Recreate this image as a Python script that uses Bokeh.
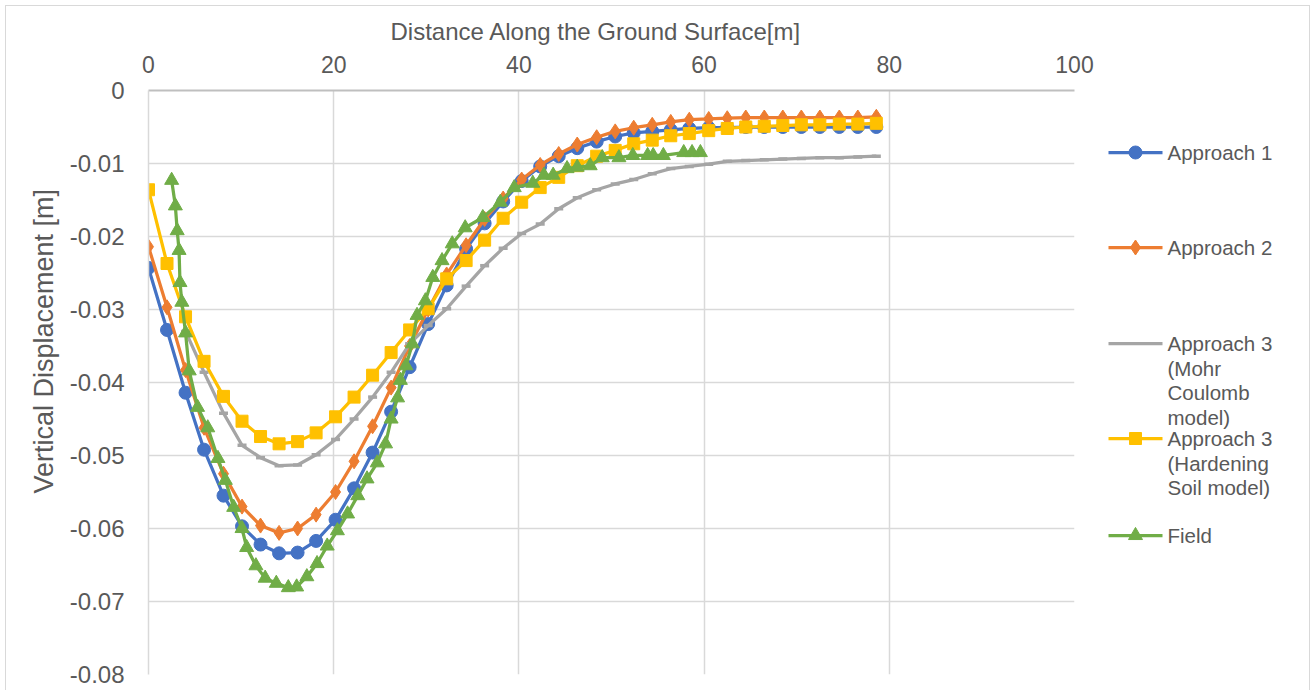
from bokeh.plotting import figure
from bokeh.layouts import row
from bokeh.models import Range1d, FixedTicker, CustomJSTickFormatter, Title
from bokeh.embed import file_html
from bokeh.resources import INLINE
from bokeh.core.properties import value

FONT = "Liberation Sans"
TXT = "#595959"
GRID = "#d9d9d9"

# ---------------- data ----------------
x_model = [0.0, 2.0, 4.0, 6.0, 8.1, 10.1, 12.1, 14.1, 16.1, 18.1,
           20.2, 22.2, 24.2, 26.2, 28.2, 30.2, 32.2, 34.3, 36.3, 38.3,
           40.3, 42.3, 44.3, 46.3, 48.4, 50.4, 52.4, 54.4, 56.4, 58.4,
           60.5, 62.5, 64.5, 66.5, 68.5, 70.5, 72.5, 74.6, 76.6, 78.6]

approach1 = [-0.0243, -0.0328, -0.0414, -0.0492, -0.0555, -0.0597, -0.0622, -0.0634, -0.0633, -0.0617,
             -0.0588, -0.0545, -0.0496, -0.0440, -0.0379, -0.0320, -0.0267, -0.0217, -0.0182, -0.0152,
             -0.0124, -0.0104, -0.0090, -0.0079, -0.0070, -0.0063, -0.0058, -0.0056, -0.0054, -0.0052,
             -0.0051, -0.0051, -0.0050, -0.0050, -0.0050, -0.0050, -0.0050, -0.0050, -0.0050, -0.0050]

approach2 = [-0.0214, -0.0297, -0.0383, -0.0462, -0.0525, -0.0570, -0.0596, -0.0606, -0.0600, -0.0581,
             -0.0550, -0.0508, -0.0460, -0.0407, -0.0350, -0.0300, -0.0252, -0.0212, -0.0176, -0.0148,
             -0.0122, -0.0102, -0.0087, -0.0074, -0.0064, -0.0056, -0.0051, -0.0047, -0.0043, -0.0040,
             -0.0039, -0.0038, -0.0037, -0.0037, -0.0037, -0.0037, -0.0037, -0.0037, -0.0037, -0.0036]

approach3_mc_x = x_model[2:]
approach3_mc = [-0.0330, -0.0386, -0.0442, -0.0486, -0.0503, -0.0514, -0.0513, -0.0499,
                -0.0478, -0.0450, -0.0420, -0.0386, -0.0347, -0.0322, -0.0299, -0.0268, -0.0240, -0.0216,
                -0.0196, -0.0183, -0.0162, -0.0147, -0.0136, -0.0128, -0.0122, -0.0114, -0.0107, -0.0104,
                -0.0101, -0.0097, -0.0096, -0.0095, -0.0094, -0.0093, -0.0092, -0.0092, -0.0091, -0.0090]

approach3_hs = [-0.0136, -0.0237, -0.0310, -0.0371, -0.0419, -0.0453, -0.0474, -0.0484, -0.0481, -0.0469,
                -0.0447, -0.0420, -0.0390, -0.0359, -0.0328, -0.0299, -0.0258, -0.0233, -0.0205, -0.0175,
                -0.0153, -0.0133, -0.0119, -0.0103, -0.0090, -0.0082, -0.0073, -0.0068, -0.0062, -0.0059,
                -0.0055, -0.0052, -0.0050, -0.0049, -0.0048, -0.0047, -0.0047, -0.0046, -0.0046, -0.0045]

field_x = [2.5, 2.9, 3.1, 3.3, 3.4, 3.6, 4.0, 4.4, 5.3, 6.4,
           7.5, 8.3, 9.2, 10.1, 10.6, 11.6, 12.6, 13.8, 15.1, 16.0,
           17.1, 18.2, 19.3, 20.4, 21.5, 22.6, 23.6, 24.7, 25.6, 26.2,
           26.9, 27.2, 27.8, 28.5, 29.0, 29.9, 30.7, 31.7, 32.8, 34.2,
           36.1, 38.0, 39.5, 41.5, 42.7, 43.7, 45.2, 46.3, 47.7, 49.0,
           50.8, 52.3, 53.9, 54.5, 55.6, 57.8, 58.7, 59.6]
field_y = [-0.0123, -0.0158, -0.0192, -0.0219, -0.0263, -0.0290, -0.0332, -0.0384, -0.0434, -0.0462,
           -0.0504, -0.0534, -0.0571, -0.0600, -0.0626, -0.0651, -0.0668, -0.0675, -0.0681, -0.0680,
           -0.0666, -0.0648, -0.0624, -0.0603, -0.0580, -0.0555, -0.0532, -0.0510, -0.0484, -0.0450,
           -0.0421, -0.0397, -0.0377, -0.0347, -0.0308, -0.0288, -0.0256, -0.0233, -0.0210, -0.0188,
           -0.0174, -0.0153, -0.0133, -0.0127, -0.0116, -0.0116, -0.0107, -0.0105, -0.0103, -0.0092,
           -0.0092, -0.0089, -0.0089, -0.0089, -0.0089, -0.0085, -0.0085, -0.0085]

x_ticks = [0, 20, 40, 60, 80, 100]
y_ticks = [0, -0.01, -0.02, -0.03, -0.04, -0.05, -0.06, -0.07, -0.08]

series_names = ["Approach 1", "Approach 2", "Approach 3\n(Mohr\nCoulomb\nmodel)",
                "Approach 3\n(Hardening\nSoil model)", "Field"]
series_colors = ["#4472C4", "#ED7D31", "#A5A5A5", "#FFC000", "#70AD47"]
series_markers = ["circle", "diamond", "dash", "square", "triangle"]
marker_sizes = [13, 15, 9, 12, 14]

# ---------------- layout constants (pixels) ----------------
FRAME_W, FRAME_H = 926, 584
BORDER_L, BORDER_T, BORDER_B, BORDER_R = 142, 84, 16, 24
LEG_W = 235 - BORDER_R

# ---------------- main plot ----------------
p = figure(frame_width=FRAME_W, frame_height=FRAME_H,
           x_range=Range1d(0, 100), y_range=Range1d(-0.08, 0),
           x_axis_location="above", output_backend="svg", toolbar_location=None,
           min_border_left=BORDER_L, min_border_top=BORDER_T,
           min_border_bottom=BORDER_B, min_border_right=BORDER_R,
           background_fill_color="white", border_fill_color="white")
p.outline_line_color = None

p.xaxis.ticker = FixedTicker(ticks=x_ticks)
p.yaxis.ticker = FixedTicker(ticks=y_ticks)
p.yaxis.formatter = CustomJSTickFormatter(code="return Math.abs(tick) < 1e-9 ? '0' : tick.toFixed(2);")

for ax in (p.xaxis[0], p.yaxis[0]):
    ax.major_tick_line_color = None
    ax.minor_tick_line_color = None
    ax.major_label_text_font = FONT
    ax.major_label_text_color = TXT
p.xaxis.major_label_text_font_size = "23px"
p.yaxis.major_label_text_font_size = "24px"

p.xaxis.axis_line_color = "#bfbfbf"
p.xaxis.axis_line_width = 2
p.yaxis.axis_line_color = GRID
p.yaxis.axis_line_width = 1.5
p.xaxis.major_label_standoff = 12
p.yaxis.major_label_standoff = 18

# axis titles
p.title.text = "Distance Along the Ground Surface[m]"
p.title.align = "left"
p.title.offset = 242
p.title.text_font = FONT
p.title.text_font_size = "24px"
p.title.text_font_style = "normal"
p.title.text_color = TXT
p.title.standoff = 16

ytitle = Title(text="Vertical Displacement [m]", align="left", offset=181,
               text_font=FONT, text_font_size="27px", text_font_style="normal",
               text_color=TXT, standoff=16)
p.add_layout(ytitle, "left")

p.grid.grid_line_color = GRID
p.grid.grid_line_width = 1.5

xs = [x_model, x_model, approach3_mc_x, x_model, field_x]
ys = [approach1, approach2, approach3_mc, approach3_hs, field_y]
for xv, yv, c, m, s in zip(xs, ys, series_colors, series_markers, marker_sizes):
    p.line(xv, yv, line_color=c, line_width=3.25)
    if m == "dash":
        p.scatter(xv, yv, marker=m, size=s, line_color=c, line_width=3.5)
    else:
        p.scatter(xv, yv, marker=m, size=s, fill_color=c, line_color=c)

# ---------------- legend panel (page-pixel coordinates) ----------------
PAGE_X0 = 1074 + BORDER_R   # left edge of legend panel on the page
PAGE_TOP, PAGE_BOT = 90, 674
lg = figure(frame_width=LEG_W, frame_height=FRAME_H,
            x_range=Range1d(PAGE_X0, PAGE_X0 + LEG_W), y_range=Range1d(PAGE_BOT, PAGE_TOP),
            output_backend="svg", toolbar_location=None,
            min_border_left=0, min_border_right=0,
            min_border_top=BORDER_T, min_border_bottom=BORDER_B,
            background_fill_color="white", border_fill_color="white")
lg.axis.visible = False
lg.grid.visible = False
lg.outline_line_color = None
lg.title.text = ""

item_y = [152, 247, 343, 438, 535]
line_gap = 24.5
for name, c, m, s, yy in zip(series_names, series_colors, series_markers, marker_sizes, item_y):
    lg.line([1108, 1162], [yy, yy], line_color=c, line_width=3.25)
    if m != "dash":
        lg.scatter([1135], [yy], marker=m, size=s, fill_color=c, line_color=c)
    lines = name.split("\n")
    lg.text(x=[1167] * len(lines), y=[yy + i * line_gap for i in range(len(lines))], text=lines,
            text_font=value(FONT), text_font_size="20.5px", text_color=TXT,
            text_baseline="middle", text_align="left")

layout = row(p, lg, styles={"margin-left": "5px", "margin-top": "5px",
                            "border-top": "1px solid #d9d9d9",
                            "border-left": "1px solid #d9d9d9",
                            "border-right": "1px solid #d9d9d9"})

open("out.html", "w").write(file_html(layout, INLINE))
